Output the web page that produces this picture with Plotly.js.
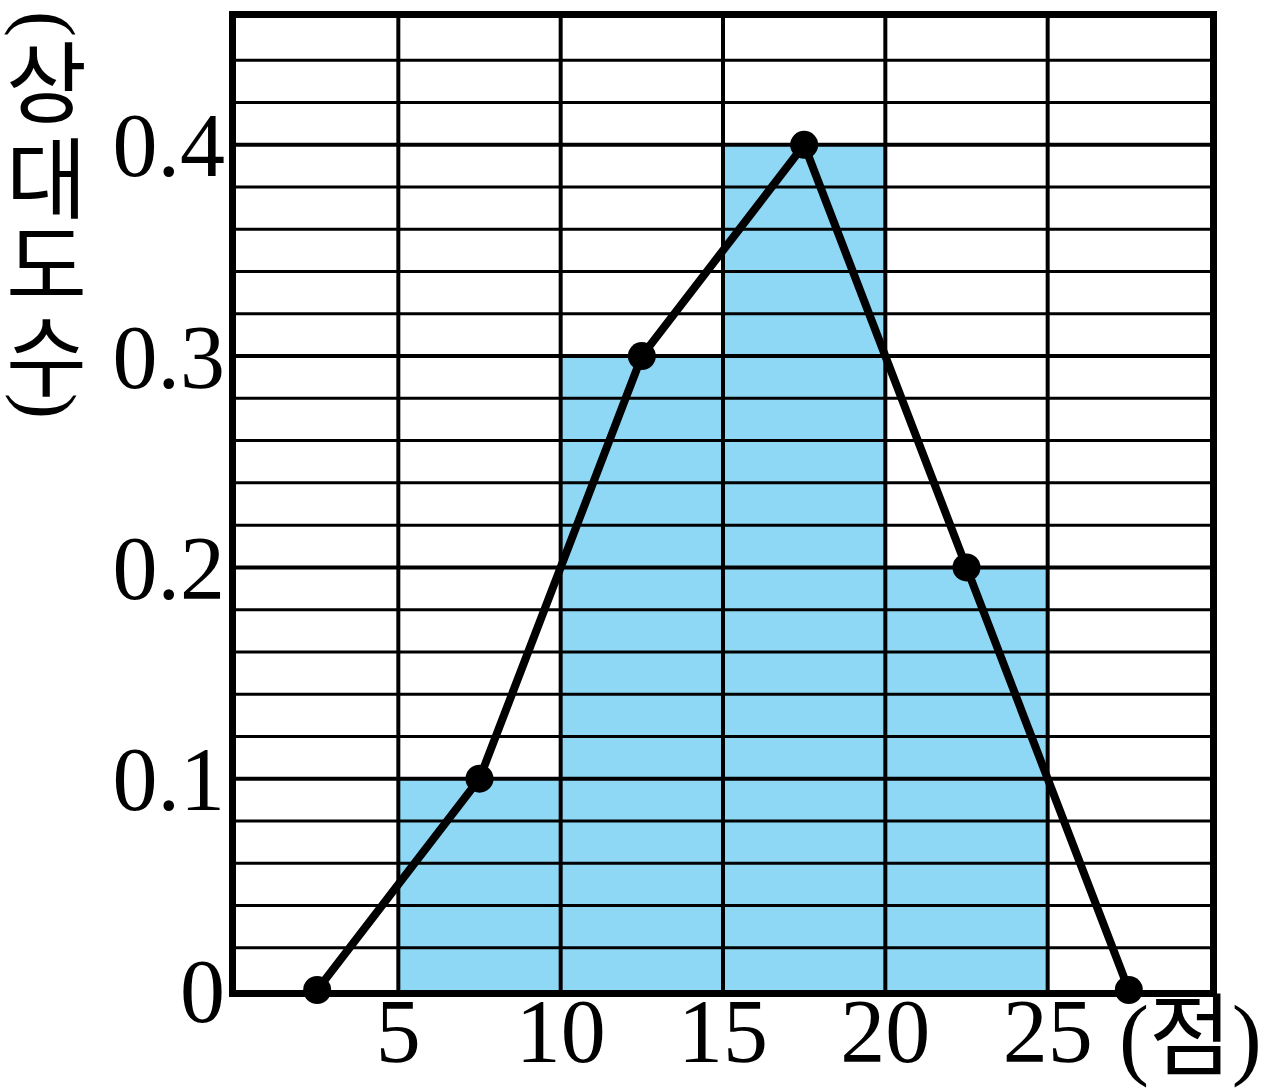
<!DOCTYPE html>
<html><head><meta charset="utf-8">
<script src="https://cdn.plot.ly/plotly-3.0.1.min.js"></script>
<style>html,body{margin:0;padding:0;background:#fff}</style>
</head><body><div id="chart" style="width:1272px;height:1091px"></div>
<script>
// ---- data ----
const classStart = [5, 10, 15, 20];
const classEnd = [10, 15, 20, 25];
const relFreq = [0.1, 0.3, 0.4, 0.2];
const polyX = [2.5, 7.5, 12.5, 17.5, 22.5, 27.5];
const polyY = [0, 0.1, 0.3, 0.4, 0.2, 0];
const xTickVals = [5, 10, 15, 20, 25];
const xTickText = ['5', '10', '15', '20', '25'];
const yTickVals = [0, 0.1, 0.2, 0.3, 0.4];
const yTickText = ['0', '0.1', '0.2', '0.3', '0.4'];
const yTitleChars = ['(', '상', '대', '도', '수', ')'];
const xTitleText = '(점)';

// ---- layout helpers ----
const W = 1272, H = 1091;
const M = {l: 236, r: 62, t: 18, b: 101};
const pw = W - M.l - M.r, ph = H - M.t - M.b;
const px2x = p => (p - M.l) / pw;
const py2y = p => (H - M.b - p) / ph;
const FONT = '"Liberation Serif", "Noto Sans CJK KR", serif';
const KFONT = '"Noto Sans CJK KR", sans-serif';

const xMax = 30, yMax = 0.46, yMinorStep = 0.02, xStep = 5;

const barTrace = {
  type: 'bar',
  x: classStart.map((s, i) => (s + classEnd[i]) / 2),
  y: relFreq,
  width: classStart.map((s, i) => classEnd[i] - s),
  marker: {color: '#8ed8f5', line: {width: 0}},
  hoverinfo: 'skip'
};
const lineTrace = {
  type: 'scatter', mode: 'lines+markers',
  x: polyX, y: polyY,
  line: {color: '#000', width: 8},
  marker: {color: '#000', size: 28},
  cliponaxis: false,
  hoverinfo: 'skip'
};

const shapes = [];
for (let k = 1; k * yMinorStep < yMax - 1e-9; k++) {
  const v = +(k * yMinorStep).toFixed(4);
  const major = k % 5 === 0;
  shapes.push({type: 'line', layer: 'above', xref: 'x', yref: 'y', x0: 0, x1: xMax, y0: v, y1: v,
    line: {color: '#000', width: major ? 4 : 3}});
}
for (let v = xStep; v < xMax; v += xStep) {
  shapes.push({type: 'line', layer: 'above', xref: 'x', yref: 'y', x0: v, x1: v, y0: 0, y1: yMax,
    line: {color: '#000', width: 4}});
}

const yCharPos = [24, 76, 172, 258, 350, 406];
const annotations = yTitleChars.map((c, i) => {
  const paren = (c === '(' || c === ')');
  return {
    xref: 'paper', yref: 'paper', x: px2x(paren ? 48 : 46), y: py2y(yCharPos[i]),
    xanchor: 'center', yanchor: 'middle', showarrow: false,
    text: c, textangle: paren ? 90 : 0,
    font: {family: paren ? FONT : KFONT, size: paren ? 78 : 88, color: '#000'}
  };
});
annotations.push({
  xref: 'paper', yref: 'paper', x: px2x(1190), y: py2y(1038),
  xanchor: 'center', yanchor: 'middle', showarrow: false,
  text: xTitleText, font: {family: FONT, size: 90, color: '#000'}
});

const layout = {
  width: W, height: H,
  margin: M,
  paper_bgcolor: '#fff', plot_bgcolor: '#fff',
  showlegend: false,
  bargap: 0,
  xaxis: {
    range: [0, xMax], showgrid: false, zeroline: false,
    showline: true, mirror: true, linewidth: 7, linecolor: '#000',
    tickmode: 'array', tickvals: xTickVals, ticktext: xTickText,
    ticks: '', ticklabelstandoff: -43,
    tickfont: {family: FONT, size: 90, color: '#000'},
    fixedrange: true
  },
  yaxis: {
    range: [0, yMax], showgrid: false, zeroline: false,
    showline: true, mirror: true, linewidth: 7, linecolor: '#000',
    tickmode: 'array', tickvals: yTickVals, ticktext: yTickText,
    ticks: '', ticklabelstandoff: -14,
    tickfont: {family: FONT, size: 90, color: '#000'},
    fixedrange: true
  },
  shapes: shapes,
  annotations: annotations
};

Plotly.newPlot('chart', [barTrace, lineTrace], layout, {displayModeBar: false, staticPlot: true});
</script>
</body></html>
